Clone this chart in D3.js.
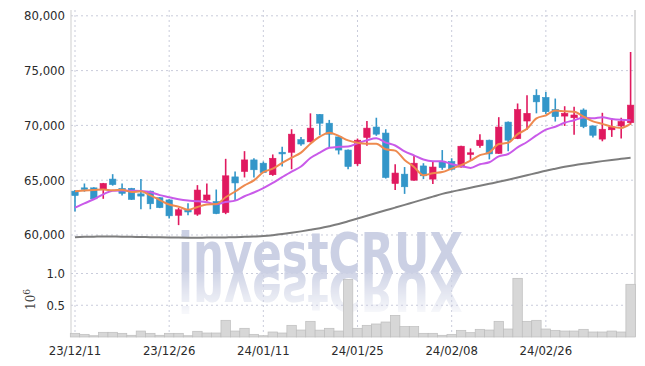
<!DOCTYPE html>
<html><head><meta charset="utf-8">
<script src="https://cdn.jsdelivr.net/npm/d3@7"></script>
<style>body{margin:0;background:#fff}svg{display:block}</style>
</head><body><div id="chart"></div>
<script>
const dates = ["2023-12-11","2023-12-12","2023-12-13","2023-12-14","2023-12-15","2023-12-18","2023-12-19","2023-12-20","2023-12-21","2023-12-22","2023-12-26","2023-12-27","2023-12-28",
"2024-01-02","2024-01-03","2024-01-04","2024-01-05","2024-01-08","2024-01-09","2024-01-10","2024-01-11","2024-01-12","2024-01-15","2024-01-16","2024-01-17","2024-01-18","2024-01-19","2024-01-22","2024-01-23","2024-01-24","2024-01-25","2024-01-26","2024-01-29","2024-01-30","2024-01-31",
"2024-02-01","2024-02-02","2024-02-05","2024-02-06","2024-02-07","2024-02-08","2024-02-13","2024-02-14","2024-02-15","2024-02-16","2024-02-19","2024-02-20","2024-02-21","2024-02-22","2024-02-23","2024-02-26","2024-02-27","2024-02-28","2024-02-29",
"2024-03-04","2024-03-05","2024-03-06","2024-03-07","2024-03-08","2024-03-11"];
const open  = [64000,64300,64300,64150,65100,64250,64250,63750,64000,63400,63200,61800,62300,61900,63200,63050,62050,65300,65800,66850,66550,65500,67550,67550,68700,68500,71000,70200,68950,67750,66500,68900,69850,69300,64700,65550,65000,66300,65100,66700,66700,66200,67350,68150,68650,67450,70300,68800,70400,72750,72550,71450,70850,70700,71400,69950,68750,69600,69950,70250];
const high  = [64100,64700,64350,64750,65550,64700,64300,65100,64050,63450,63250,62500,62900,64550,64700,64150,66950,65800,67650,67000,66700,67350,68050,69650,68950,71100,71050,70500,69000,67800,68800,70400,70700,69650,66450,66200,67200,66550,66650,67750,67000,68150,67900,69200,68700,70750,70350,72000,72750,73300,73050,72450,71750,71700,71550,70000,71150,70650,70700,76700];
const low   = [62150,63950,63250,63300,64500,63600,63200,62350,62350,62450,61500,60900,61800,61750,63050,61900,61900,63200,65250,65250,65650,65400,66250,66000,68150,68450,69100,67950,67350,66000,66300,68150,69050,65150,64100,63750,64950,65100,64650,65950,65900,66150,66850,67950,66900,67400,67650,68750,69600,71100,71050,70350,69950,69150,69750,68900,68550,68950,68800,70050];
const close = [63600,64200,63300,64700,64600,63800,63250,63550,62850,62500,61750,62300,62100,64100,63650,61950,65400,64750,66850,65950,65700,67000,67400,69200,68300,69750,70200,69200,67750,66250,68650,69750,69200,65250,65650,64400,66550,65400,66200,66150,66000,68100,67500,68650,67400,69850,68650,71450,71100,72150,71250,70800,71100,70950,69900,69100,69650,69850,70350,71850];
const volume = [0.058,0.042,0.020,0.074,0.074,0.058,0.027,0.094,0.058,0.027,0.058,0.058,0.020,0.090,0.063,0.063,0.263,0.094,0.137,0.042,0.020,0.079,0.063,0.184,0.110,0.247,0.108,0.137,0.094,0.908,0.137,0.184,0.205,0.236,0.341,0.163,0.163,0.058,0.058,0.027,0.042,0.105,0.068,0.121,0.110,0.247,0.126,0.924,0.247,0.263,0.126,0.105,0.094,0.094,0.121,0.079,0.079,0.094,0.079,0.830];
const ma5  = [64000,64050,64100,64150,64080,64120,63930,63980,63610,63190,62780,62590,62300,62550,62780,62820,63440,63970,64520,64980,65730,66050,66580,67050,67520,68330,68970,69330,69040,68630,68410,68320,68320,67820,67700,66850,66210,65450,65640,65740,66060,66370,66790,67280,67530,68300,68410,69200,69690,70640,70920,71350,71280,71250,70800,70370,70140,69890,69770,70160];
const ma10 = [62500,62890,63260,63710,64040,64060,64040,64010,63900,63635,63450,63260,63140,63080,62985,62800,63015,63135,63535,63880,64275,64745,65275,65785,66250,67030,67510,67955,68045,68075,68370,68645,68825,68430,68165,67630,67265,66885,66730,66720,66455,66290,66120,66460,66635,67180,67390,67995,68485,69085,69610,69880,70240,70470,70720,70645,70745,70585,70510,70480];
const ma60 = [59800,59830,59850,59870,59860,59850,59830,59820,59800,59790,59780,59760,59750,59750,59760,59760,59780,59800,59830,59860,59900,59980,60080,60200,60330,60470,60620,60800,61000,61250,61500,61750,62000,62250,62500,62750,63000,63250,63500,63750,63950,64130,64310,64490,64670,64850,65040,65240,65450,65660,65870,66050,66220,66370,66500,66620,66740,66850,66950,67050];
const priceTicks = [60000,65000,70000,75000,80000];
const volTicks = [0.5,1.0];
const brand = "investCRUX";

const W=645,H=366;
const svg=d3.select("#chart").append("svg").attr("width",W).attr("height",H)
  .attr("xmlns:xlink","http://www.w3.org/1999/xlink")
  .style("font-family","'DejaVu Sans Condensed','DejaVu Sans',sans-serif");
const L=71,R=635,T=10,B=337;
const x=d3.scalePoint().domain(dates).range([75,630.6]);
const step=x.step();
const y=d3.scaleLinear().domain([57900,80530]).range([258,T]);
const yv=d3.scaleLinear().domain([0,1.2]).range([B,B-76.2]);
const gridC="#c9ccdb";

// grids
svg.append("g").selectAll("line").data(priceTicks).join("line")
  .attr("x1",L).attr("x2",R).attr("y1",d=>y(d)).attr("y2",d=>y(d))
  .attr("stroke",gridC).attr("stroke-dasharray","2,3");
svg.append("g").selectAll("line").data(volTicks).join("line")
  .attr("x1",L).attr("x2",R).attr("y1",d=>yv(d)).attr("y2",d=>yv(d))
  .attr("stroke",gridC).attr("stroke-dasharray","2,3");
const xt=dates.filter((d,i)=>i%10===0);
svg.append("g").selectAll("line").data(xt).join("line")
  .attr("x1",d=>x(d)).attr("x2",d=>x(d)).attr("y1",T).attr("y2",B)
  .attr("stroke",gridC).attr("stroke-dasharray","2,3");

// watermark with reflection (reflection reuses the same glyphs)
const defs=svg.append("defs");
defs.append("text").attr("id","wm").text(brand).attr("x",178).attr("y",0)
  .attr("font-size",55).attr("font-weight","bold").attr("textLength",285).attr("lengthAdjust","spacingAndGlyphs");
const g=defs.append("linearGradient").attr("id","fade").attr("gradientUnits","userSpaceOnUse")
  .attr("x1",0).attr("y1",272).attr("x2",0).attr("y2",316);
g.append("stop").attr("offset",0).attr("stop-color","#fff").attr("stop-opacity",0.9);
g.append("stop").attr("offset",1).attr("stop-color","#fff").attr("stop-opacity",0.1);
defs.append("mask").attr("id","fadeMask").attr("maskUnits","userSpaceOnUse")
  .attr("x",0).attr("y",272).attr("width",W).attr("height",60)
  .append("rect").attr("x",0).attr("y",272).attr("width",W).attr("height",60).attr("fill","url(#fade)");
svg.append("use").attr("href","#wm").attr("transform","translate(0,272)").attr("fill","#cbd0e4");
svg.append("g").attr("mask","url(#fadeMask)")
  .append("use").attr("href","#wm").attr("transform","translate(0,272) scale(1,-1)").attr("fill","#cbd0e4");

// frame
svg.append("line").attr("x1",L).attr("x2",L).attr("y1",T).attr("y2",B).attr("stroke","#cfcfcf");
svg.append("line").attr("x1",R).attr("x2",R).attr("y1",T).attr("y2",B).attr("stroke","#cfcfcf").attr("stroke-width",1.5);

// volume bars
svg.append("g").selectAll("rect").data(volume).join("rect")
  .attr("x",(d,i)=>x(dates[i])-step/2).attr("width",step)
  .attr("y",d=>yv(d)).attr("height",d=>yv(0)-yv(d))
  .attr("fill","#d7d7d7").attr("stroke","#bdbdbd").attr("stroke-width",0.7);

// MA lines
const lineOf=arr=>d3.line().x((d,i)=>x(dates[i])).y(d=>y(d)).curve(d3.curveMonotoneX)(arr);
svg.append("path").attr("d",lineOf(ma60)).attr("fill","none").attr("stroke","#7d7d7d").attr("stroke-width",2);

// candles
const up="#e0195f",dn="#3396c9";
const cg=svg.append("g").selectAll("g").data(dates).join("g");
cg.append("line").attr("x1",d=>x(d)).attr("x2",d=>x(d))
  .attr("y1",(d,i)=>y(high[i])).attr("y2",(d,i)=>y(low[i]))
  .attr("stroke",(d,i)=>close[i]>=open[i]?up:dn).attr("stroke-width",1.6);
cg.append("rect").attr("x",d=>x(d)-3.2).attr("width",6.4)
  .attr("y",(d,i)=>y(Math.max(open[i],close[i])))
  .attr("height",(d,i)=>Math.max(1.5,Math.abs(y(open[i])-y(close[i]))))
  .attr("fill",(d,i)=>close[i]>=open[i]?up:dn)
  .attr("stroke",(d,i)=>close[i]>=open[i]?up:dn).attr("stroke-width",0.6);

svg.append("path").attr("d",lineOf(ma10)).attr("fill","none").attr("stroke","#c95ae9").attr("stroke-width",2);
svg.append("path").attr("d",lineOf(ma5)).attr("fill","none").attr("stroke","#ee8a4f").attr("stroke-width",2);

// axis labels
const fmt=d3.format(",");
svg.append("g").selectAll("text").data(priceTicks).join("text")
  .attr("x",65).attr("y",d=>y(d)+4.5).attr("text-anchor","end")
  .attr("font-size",13).attr("fill","#2b2b2b").text(d=>fmt(d));
svg.append("g").selectAll("text").data(volTicks).join("text")
  .attr("x",65).attr("y",d=>yv(d)+4.5).attr("text-anchor","end")
  .attr("font-size",13).attr("fill","#2b2b2b").text(d=>d3.format(".1f")(d));
const lab=svg.append("text").attr("transform","translate(35,310) rotate(-90)")
  .attr("font-family","'DejaVu Serif',serif").attr("font-size",12).attr("fill","#444");
lab.append("tspan").text("10");
lab.append("tspan").attr("dy",-5).attr("font-size",9).text("6");
svg.append("g").selectAll("text").data(xt).join("text")
  .attr("x",d=>x(d)).attr("y",355).attr("text-anchor","middle")
  .attr("font-size",13).attr("fill","#2b2b2b")
  .text(d=>d.slice(2).replace(/-/g,"/"));
</script></body></html>
